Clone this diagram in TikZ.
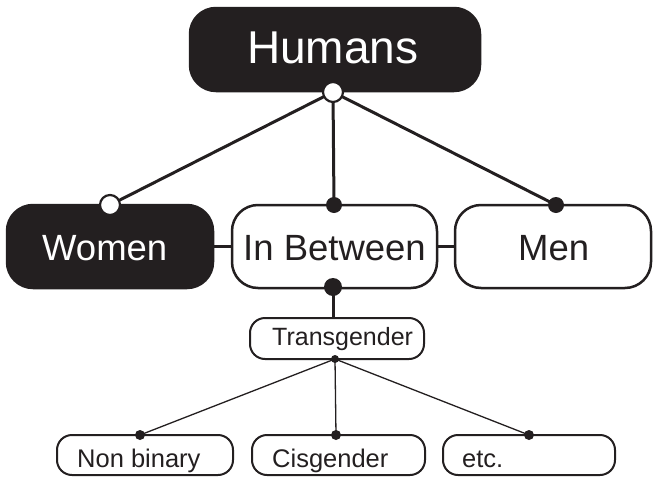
\documentclass[tikz,border=0pt]{standalone}
\usepackage{fontspec}
\setmainfont{Liberation Sans}
\definecolor{ink}{HTML}{231F20}
\begin{document}
\begin{tikzpicture}[x=1pt,y=-1pt,
  bigbox/.style={draw=ink,line width=2.5pt,rounded corners=26pt,minimum height=83pt,inner sep=0pt},
  smallbox/.style={draw=ink,line width=2pt,rounded corners=15pt,minimum height=40pt,inner sep=0pt},
  dark/.style={fill=ink},
  bigtxt/.style={anchor=base west,inner sep=0pt,font=\fontsize{36.5}{40}\selectfont,text=ink},
  smalltxt/.style={anchor=base west,inner sep=0pt,font=\fontsize{25.5}{28}\selectfont,text=ink},
  opendot/.style={circle,draw=ink,fill=white,line width=2.2pt,minimum size=20pt,inner sep=0pt},
  bigdot/.style={circle,fill=ink,minimum size=#1,inner sep=0pt},
  thick link/.style={draw=ink,line width=3pt},
  thin link/.style={draw=ink,line width=1.3pt}]
\useasboundingbox (0,0) rectangle (654,477);

% boxes
\node[bigbox,dark,minimum width=290pt] (humans) at (335,49.5) {};
\node[bigbox,dark,minimum width=206pt] (women) at (110,246.5) {};
\node[bigbox,minimum width=205pt] (between) at (334.5,246.5) {};
\node[bigbox,minimum width=196pt] (men) at (553,246.5) {};
\node[smallbox,minimum width=174pt,minimum height=41pt] (trans) at (337,338.5) {};
\node[smallbox,minimum width=176pt] (nonbin) at (145,455) {};
\node[smallbox,minimum width=173pt] (cis) at (338.5,455) {};
\node[smallbox,minimum width=172pt] (etc) at (529,455) {};

% labels
\node[bigtxt,text=white,font=\fontsize{46}{50}\selectfont] (humansT) at (247,63) {Humans};
\node[bigtxt,text=white] (womenT) at (42,260) {Women};
\node[bigtxt] (betweenT) at (243,260) {In Between};
\node[bigtxt] (menT) at (518,260) {Men};
\node[smalltxt,font=\fontsize{25}{28}\selectfont] (transT) at (272,345.5) {Transgender};
\node[smalltxt] (nonbinT) at (77,467) {Non binary};
\node[smalltxt] (cisT) at (272,467) {Cisgender};
\node[smalltxt] (etcT) at (462,467) {etc.};

% junction points
\coordinate (hJ) at (333,92);
\coordinate (wJ) at (110,205);
\coordinate (bJ) at (334,205);
\coordinate (mJ) at (556,205);
\coordinate (bB) at (333,287);
\coordinate (tJ) at (335,359);
\coordinate (nJ) at (140,435);
\coordinate (cJ) at (336,435);
\coordinate (eJ) at (529,435);

% connectors
\draw[thick link] (hJ) -- (wJ);
\draw[thick link] (hJ) -- (bJ);
\draw[thick link] (hJ) -- (mJ);
\draw[draw=ink,line width=2.5pt] (women.east) -- (between.west);
\draw[draw=ink,line width=2.5pt] (between.east) -- (men.west);
\draw[thick link] (bB) -- (trans.north -| bB);
\draw[thin link] (tJ) -- (nJ);
\draw[thin link] (tJ) -- (cJ);
\draw[thin link] (tJ) -- (eJ);

% dots
\node[opendot] (hDot) at (hJ) {};
\node[opendot] (wDot) at (wJ) {};
\node[bigdot=16pt] (bDot) at (bJ) {};
\node[bigdot=16pt] (mDot) at (mJ) {};
\node[bigdot=18pt] (bBDot) at (bB) {};
\node[bigdot=8pt] (tDot) at (tJ) {};
\node[bigdot=10pt] (nDot) at (nJ) {};
\node[bigdot=10pt] (cDot) at (cJ) {};
\node[bigdot=10pt] (eDot) at (eJ) {};
\end{tikzpicture}
\end{document}
